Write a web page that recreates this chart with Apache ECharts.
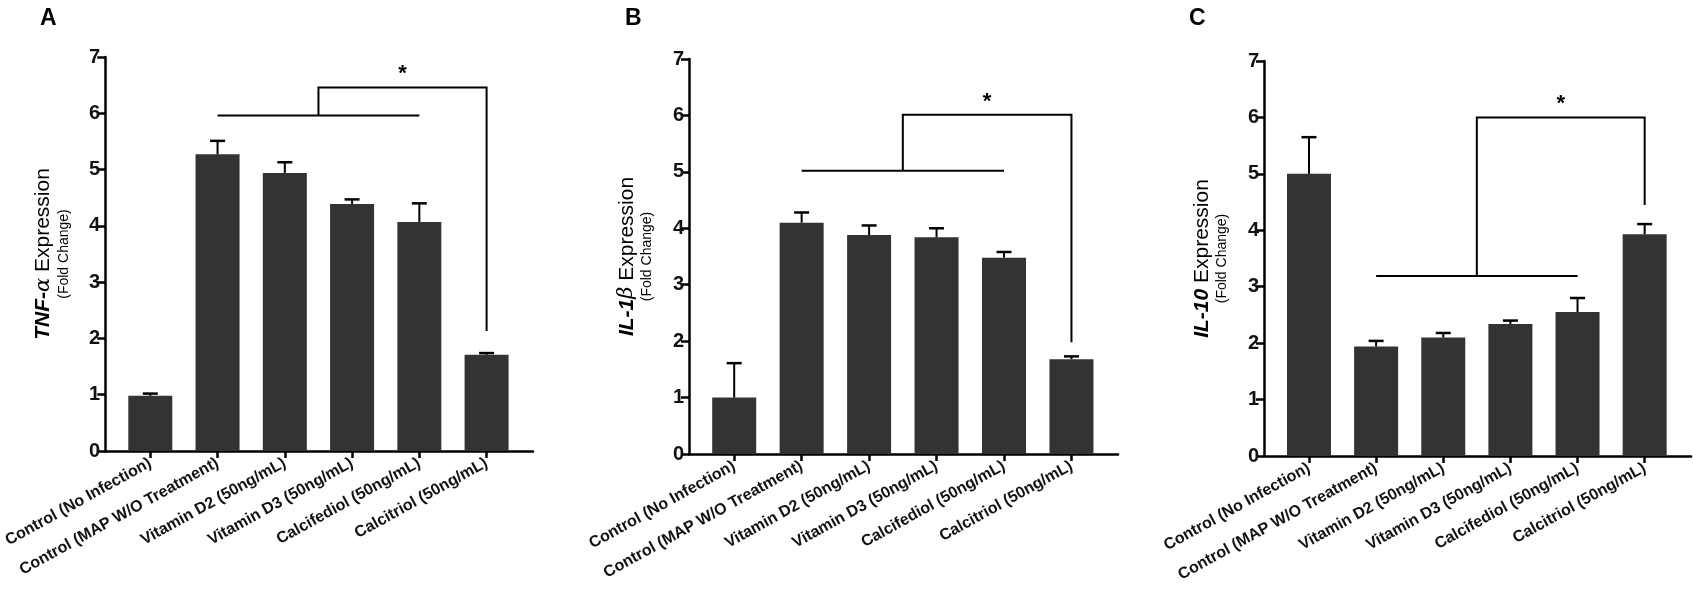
<!DOCTYPE html>
<html>
<head>
<meta charset="utf-8">
<script type="text/javascript" src="https://cdn.jsdelivr.net/npm/echarts@6/dist/echarts.min.js"></script>
<style type="text/css">
    * { margin: 0; padding: 0; }
    html, body { background: #fff; }
    #container { width: 1693px; height: 599px; }
</style>
</head>
<body>
<div id="container"></div>
<script type="text/javascript">
var groups = ['Control (No Infection)', 'Control (MAP W/O Treatment)', 'Vitamin D2 (50ng/mL)',
              'Vitamin D3 (50ng/mL)', 'Calcifediol (50ng/mL)', 'Calcitriol (50ng/mL)'];
var yTicks = [0, 1, 2, 3, 4, 5, 6, 7];

// panel A: TNF-alpha
var tnfMean = [0.98, 5.27, 4.94, 4.39, 4.07, 1.71];
var tnfErr  = [0.04, 0.24, 0.19, 0.08, 0.33, 0.03];
// panel B: IL-1beta
var il1bMean = [1.00, 4.10, 3.88, 3.84, 3.48, 1.68];
var il1bErr  = [0.61, 0.18, 0.17, 0.16, 0.10, 0.05];
// panel C: IL-10
var il10Mean = [5.00, 1.94, 2.10, 2.34, 2.55, 3.93];
var il10Err  = [0.65, 0.10, 0.08, 0.06, 0.25, 0.18];

// brackets: [groupFrom, groupTo, groupLineY, target, topY, dropY]
var tnfBracket  = [1, 4, 5.96, 5, 6.46, 2.13];
var il1bBracket = [1, 4, 5.02, 5, 6.01, 1.98];
var il10Bracket = [1, 4, 3.19, 5, 6.00, 4.45];

var FONT = 'Arial, "Liberation Sans", Helvetica, sans-serif';
var barColor = '#333333';
var ink = '#000000';

var chart = echarts.init(document.getElementById('container'));

var panels = [
    {letter: 'A', mean: tnfMean, err: tnfErr, bracket: tnfBracket,
     name: '{g|TNF-}{gi|α}{n| Expression}\n{s|(Fold Change)}',
     grid: {left: 105, top: 57, width: 428, height: 394}, letterX: 35},
    {letter: 'B', mean: il1bMean, err: il1bErr, bracket: il1bBracket,
     name: '{g|IL-1}{gi|β}{n| Expression}\n{s|(Fold Change)}',
     grid: {left: 689, top: 59, width: 429, height: 395}, letterX: 620},
    {letter: 'C', mean: il10Mean, err: il10Err, bracket: il10Bracket,
     name: '{g|IL-10}{n| Expression}\n{s|(Fold Change)}',
     grid: {left: 1264, top: 61, width: 427, height: 395}, letterX: 1184}
];

function pairs(arr) {
    return arr.map(function (v, i) { return [i, v]; });
}

function errorItem(params, api) {
    var x = api.value(0), m = api.value(1), e = api.value(2);
    var p0 = api.coord([x, m]);
    var p1 = api.coord([x, m + e]);
    return {
        type: 'group',
        children: [
            {type: 'line', shape: {x1: p0[0], y1: p0[1], x2: p1[0], y2: p1[1]},
             style: {stroke: ink, lineWidth: 2}},
            {type: 'line', shape: {x1: p1[0] - 7.5, y1: p1[1], x2: p1[0] + 7.5, y2: p1[1]},
             style: {stroke: ink, lineWidth: 2.5}}
        ]
    };
}

function bracketItem(params, api) {
    var a = api.value(0), b = api.value(1), low = api.value(2);
    var t = api.value(3), high = api.value(4), drop = api.value(5);
    var mid = (a + b) / 2;
    var pA = api.coord([a, low]), pB = api.coord([b, low]);
    var pM = api.coord([mid, low]), pMT = api.coord([mid, high]);
    var pT = api.coord([t, high]), pD = api.coord([t, drop]);
    var star = api.coord([(mid + t) / 2, high]);
    return {
        type: 'group',
        children: [
            {type: 'line', shape: {x1: pA[0], y1: pA[1], x2: pB[0], y2: pB[1]},
             style: {stroke: ink, lineWidth: 2}},
            {type: 'polyline', shape: {points: [pM, pMT, pT, pD]},
             style: {stroke: ink, lineWidth: 2, fill: 'none'}},
            {type: 'text', x: star[0], y: star[1] - 2,
             style: {text: '*', font: 'bold 22px ' + FONT, fill: ink,
                     align: 'center', verticalAlign: 'bottom'}}
        ]
    };
}

var grids = [], xAxes = [], yAxes = [], series = [], titles = [];

panels.forEach(function (p, k) {
    grids.push(p.grid);
    titles.push({text: p.letter, left: p.letterX, top: 2,
                 textStyle: {fontFamily: FONT, fontWeight: 'bold', fontSize: 23, color: ink}});
    xAxes.push({
        type: 'value', gridIndex: k, min: -0.67, max: 5.69,
        splitLine: {show: false},
        axisLine: {show: true, onZero: false, lineStyle: {color: ink, width: 2.5}},
        axisTick: {show: true, customValues: [0, 1, 2, 3, 4, 5], length: 7,
                   lineStyle: {color: ink, width: 2.5}},
        axisLabel: {customValues: [0, 1, 2, 3, 4, 5], rotate: 29, margin: 11,
                    fontFamily: FONT, fontWeight: 'bold', fontSize: 16, color: '#111',
                    formatter: function (v) { return groups[Math.round(v)]; }}
    });
    yAxes.push({
        type: 'value', gridIndex: k, min: yTicks[0], max: yTicks[yTicks.length - 1], interval: 1,
        splitLine: {show: false},
        axisLine: {show: true, onZero: false, lineStyle: {color: ink, width: 2.5}},
        axisTick: {show: true, length: 8, lineStyle: {color: ink, width: 2.5}},
        axisLabel: {margin: 5, fontFamily: FONT, fontWeight: 'bold', fontSize: 20, color: '#111'},
        name: p.name, nameLocation: 'middle', nameRotate: 90, nameGap: 33,
        nameTextStyle: {
            fontFamily: FONT, color: ink, align: 'center',
            rich: {
                g: {fontFamily: FONT, fontSize: 21, fontWeight: 'bold', fontStyle: 'italic', color: ink, lineHeight: 24},
                gi: {fontFamily: '"DejaVu Serif", serif', fontSize: 21, fontStyle: 'italic', color: ink, lineHeight: 24},
                n: {fontFamily: FONT, fontSize: 21, color: ink, lineHeight: 24},
                s: {fontFamily: FONT, fontSize: 14, color: ink, lineHeight: 17}
            }
        }
    });
    series.push({
        type: 'bar', xAxisIndex: k, yAxisIndex: k, barWidth: 44,
        data: pairs(p.mean),
        itemStyle: {color: barColor},
        silent: true, animation: false
    });
    series.push({
        type: 'custom', xAxisIndex: k, yAxisIndex: k,
        data: p.mean.map(function (v, i) { return [i, v, p.err[i]]; }),
        renderItem: errorItem, z: 5, silent: true, animation: false
    });
    series.push({
        type: 'custom', xAxisIndex: k, yAxisIndex: k,
        data: [p.bracket],
        encode: {x: [0, 1, 3], y: [2, 4, 5]},
        renderItem: bracketItem, z: 6, silent: true, animation: false
    });
});

chart.setOption({
    backgroundColor: '#ffffff',
    animation: false,
    title: titles,
    grid: grids,
    xAxis: xAxes,
    yAxis: yAxes,
    series: series
});
</script>
</body>
</html>
